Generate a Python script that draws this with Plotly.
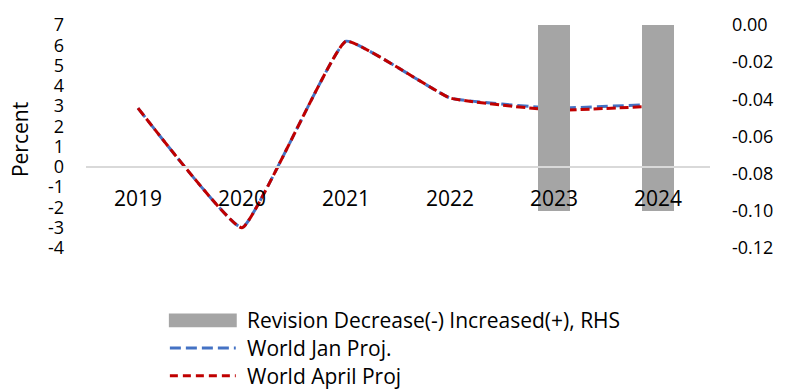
import plotly.graph_objects as go

# ---- data -------------------------------------------------------------
years = ["2019", "2020", "2021", "2022", "2023", "2024"]
world_jan_proj = [2.9, -3.0, 6.2, 3.4, 2.9, 3.1]
world_april_proj = [2.9, -3.0, 6.2, 3.4, 2.8, 3.0]
revision = [None, None, None, None, -0.10, -0.10]

left_ticks = [-4, -3, -2, -1, 0, 1, 2, 3, 4, 5, 6, 7]
left_tick_text = [str(v) for v in left_ticks]
right_ticks = [-0.12, -0.10, -0.08, -0.06, -0.04, -0.02, 0.00]
right_tick_text = ["-0.12", "-0.10", "-0.08", "-0.06", "-0.04", "-0.02", "0.00"]

legend_labels = ["Revision Decrease(-) Increased(+), RHS",
                 "World Jan Proj.",
                 "World April Proj"]

# ---- styling ----------------------------------------------------------
FONT = "Open Sans"
W, H = 785, 389
L, R, T, B = 86, 74, 23, 141
PW, PH = W - L - R, H - T - B
BAR_COLOR = "#A5A5A5"
BLUE = "#4472C4"
RED = "#C00000"
SMOOTH = 0.3


def px_x(px):
    return (px - L) / PW


def px_y(py):
    return (H - B - py) / PH


fig = go.Figure()

fig.add_trace(go.Bar(
    x=years, y=revision, yaxis="y2", base=0,
    marker=dict(color=BAR_COLOR, line=dict(width=0)),
    width=0.31, name=legend_labels[0], showlegend=False,
))
fig.add_trace(go.Scatter(
    x=years, y=world_jan_proj, mode="lines", name=legend_labels[1],
    line=dict(color=BLUE, width=3, dash="11px,5px", shape="spline",
              smoothing=SMOOTH),
    showlegend=False,
))
fig.add_trace(go.Scatter(
    x=years, y=world_april_proj, mode="lines", name=legend_labels[2],
    line=dict(color=RED, width=3, dash="9px,4px", shape="spline",
              smoothing=SMOOTH),
    showlegend=False,
))

shapes = [
    # horizontal axis line at zero
    dict(type="line", xref="paper", yref="y", x0=0, x1=1, y0=0, y1=0,
         line=dict(color="#D9D9D9", width=2), layer="above"),
    # legend keys
    dict(type="rect", xref="paper", yref="paper",
         x0=px_x(169), x1=px_x(237), y0=px_y(328), y1=px_y(314),
         fillcolor=BAR_COLOR, line=dict(width=0)),
    dict(type="line", xref="paper", yref="paper",
         x0=px_x(170), x1=px_x(236), y0=px_y(349), y1=px_y(349),
         line=dict(color=BLUE, width=3, dash="11px,5px")),
    dict(type="line", xref="paper", yref="paper",
         x0=px_x(170), x1=px_x(236), y0=px_y(377), y1=px_y(377),
         line=dict(color=RED, width=3, dash="8px,5px")),
]

annotations = [
    dict(text="Percent", xref="paper", yref="paper", x=px_x(20), y=px_y(139),
         textangle=-90, showarrow=False, xanchor="center", yanchor="middle",
         font=dict(family=FONT, size=21, color="#000000")),
]
for label, py in zip(legend_labels, [321, 349, 377]):
    annotations.append(dict(
        text=label, xref="paper", yref="paper", x=px_x(245), y=px_y(py),
        showarrow=False, xanchor="left", yanchor="middle",
        font=dict(family=FONT, size=21, color="#000000")))

fig.update_layout(
    width=W, height=H,
    margin=dict(l=L, r=R, t=T, b=B, pad=0),
    paper_bgcolor="white", plot_bgcolor="white",
    font=dict(family=FONT, color="#000000"),
    showlegend=False,
    bargap=0,
    xaxis=dict(type="category", range=[-0.5, 5.5], anchor="free",
               position=4 / 11, showgrid=False, zeroline=False, showline=False,
               ticks="", ticklabelstandoff=17,
               tickfont=dict(family=FONT, size=21, color="#000000")),
    yaxis=dict(range=[-4, 7], tickvals=left_ticks, ticktext=left_tick_text,
               showgrid=False, zeroline=False, showline=False, ticks="",
               ticklabelstandoff=21,
               tickfont=dict(family=FONT, size=18, color="#000000")),
    yaxis2=dict(range=[-0.12, 0], overlaying="y", side="right",
                tickvals=right_ticks, ticktext=right_tick_text,
                showgrid=False, zeroline=False, showline=False, ticks="",
                ticklabelstandoff=21,
                tickfont=dict(family=FONT, size=18, color="#000000")),
    shapes=shapes,
    annotations=annotations,
)

fig.write_html("out.html")
